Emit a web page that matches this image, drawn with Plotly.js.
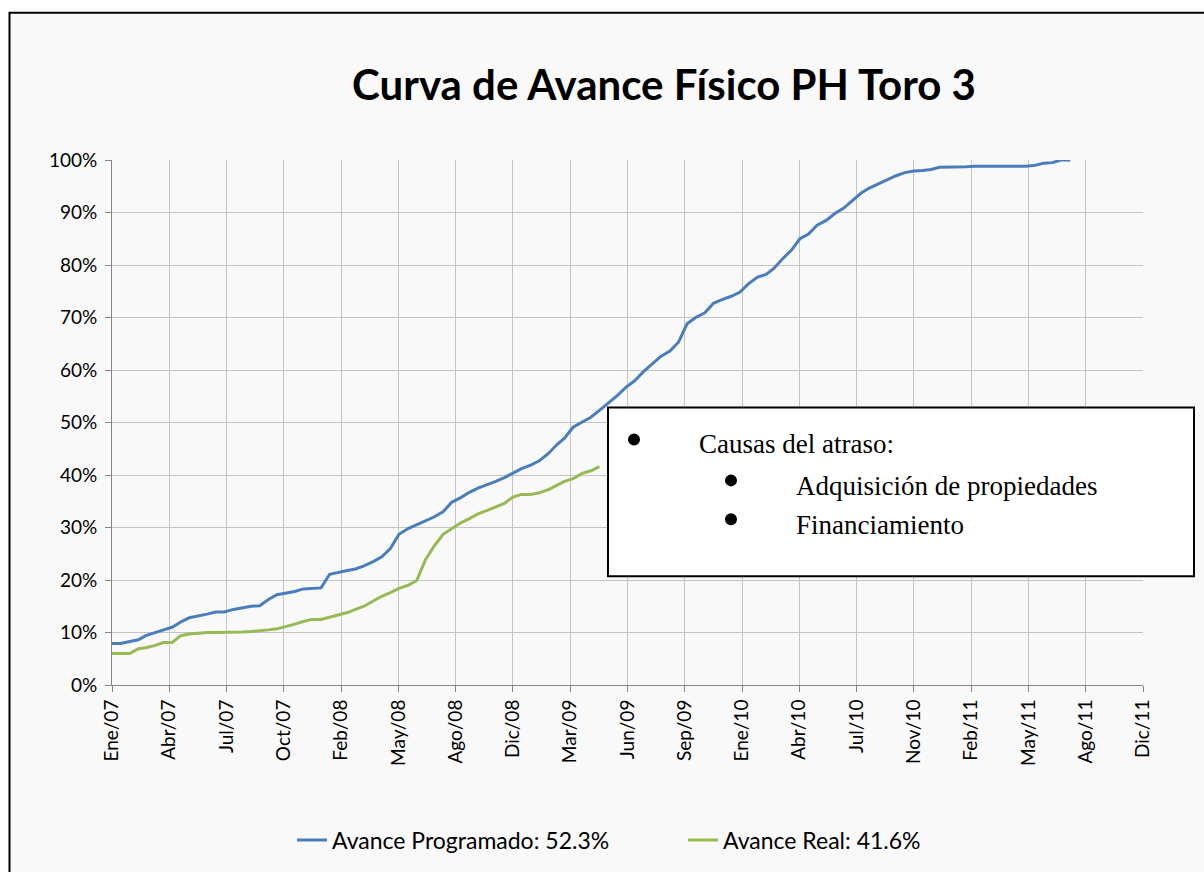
<!DOCTYPE html>
<html>
<head>
<meta charset="utf-8">
<script src="https://cdn.plot.ly/plotly-3.0.1.min.js"></script>
<style>
  html, body { margin: 0; padding: 0; background: #ffffff; }
  #chart { width: 1204px; height: 872px; }
</style>
</head>
<body>
<div id="chart"></div>
<script>
// Semi-monthly reporting periods, starting January 2007
const startYear = 2007;
const startMonth = 1;

// Avance Programado (%), one value per half month
const programado = [
  7.9, 7.9, 8.3, 8.6, 9.4, 10.0, 10.5, 11.0, 12.0, 12.8,
  13.1, 13.5, 13.9, 13.9, 14.4, 14.7, 15.0, 15.1, 16.3, 17.2,
  17.5, 17.8, 18.3, 18.4, 18.5, 21.1, 21.4, 21.8, 22.1, 22.7,
  23.5, 24.4, 26.0, 28.7, 29.8, 30.5, 31.3, 32.0, 33.0, 34.8,
  35.7, 36.7, 37.5, 38.1, 38.8, 39.5, 40.4, 41.2, 41.9, 42.7,
  44.1, 45.8, 47.0, 49.1, 50.1, 51.0, 52.3, 53.6, 55.1, 56.7,
  57.9, 59.6, 61.1, 62.6, 63.6, 65.3, 68.8, 70.0, 70.9, 72.7,
  73.4, 74.0, 74.8, 76.4, 77.7, 78.2, 79.3, 81.1, 82.8, 85.0,
  85.9, 87.6, 88.5, 89.8, 90.8, 92.2, 93.7, 94.7, 95.5, 96.3,
  97.0, 97.6, 97.9, 98.0, 98.2, 98.6, 98.6, 98.6, 98.7, 98.8,
  98.8, 98.8, 98.8, 98.8, 98.8, 98.8, 99.0, 99.4, 99.5, 100.0,
  100.0
];

// Avance Real (%), one value per half month
const real = [
  6.0, 6.0, 6.0, 6.9, 7.1, 7.5, 8.1, 8.1, 9.4, 9.7,
  9.9, 10.0, 10.0, 10.0, 10.0, 10.1, 10.2, 10.3, 10.5, 10.7,
  11.1, 11.6, 12.1, 12.5, 12.5, 12.9, 13.3, 13.8, 14.4, 15.0,
  16.0, 16.9, 17.6, 18.4, 19.0, 19.9, 23.8, 26.4, 28.7, 29.7,
  30.9, 31.7, 32.6, 33.2, 33.9, 34.6, 35.8, 36.3, 36.3, 36.6,
  37.2, 38.1, 38.8, 39.3, 40.3, 40.8, 41.6
];

const seriesNames = ["Avance Programado: 52.3%", "Avance Real: 41.6%"];

// Axis tick labels (Excel date axis, major unit 100 days)
const tickLabels = [
  "Ene/07", "Abr/07", "Jul/07", "Oct/07", "Feb/08", "May/08", "Ago/08",
  "Dic/08", "Mar/09", "Jun/09", "Sep/09", "Ene/10", "Abr/10", "Jul/10",
  "Nov/10", "Feb/11", "May/11", "Ago/11", "Dic/11"
];
const tickStepDays = 100;

const titleText = "Curva de Avance Físico PH Toro 3";
const noteTitle = "Causas del atraso:";
const noteItems = ["Adquisición de propiedades", "Financiamiento"];

// ---- build dates ----
function pad(n) { return (n < 10 ? "0" : "") + n; }
function halfMonthDate(i) {
  const m = startMonth - 1 + Math.floor(i / 2);
  const y = startYear + Math.floor(m / 12);
  const mo = (m % 12) + 1;
  const d = (i % 2 === 0) ? 1 : 16;
  return y + "-" + pad(mo) + "-" + pad(d);
}
const datesProg = programado.map((_, i) => halfMonthDate(i));
const datesReal = real.map((_, i) => halfMonthDate(i));

const t0 = Date.UTC(startYear, startMonth - 1, 1);
const tickVals = tickLabels.map((_, k) =>
  new Date(t0 + k * tickStepDays * 86400000).toISOString().slice(0, 10));

// ---- pixel -> paper helpers for decorations ----
const W = 1204, H = 872;
const M = { l: 112, r: 61, t: 160, b: 186 };
const PW = W - M.l - M.r, PH = H - M.t - M.b;
const px = x => (x - M.l) / PW;
const py = y => (H - M.b - y) / PH;

const FONT = "Lato, 'Open Sans', sans-serif";
const SERIF = "'Liberation Serif', 'DejaVu Serif', serif";

const traces = [
  { x: datesProg, y: programado, name: seriesNames[0], type: "scatter", mode: "lines",
    line: { color: "#4a7ebb", width: 3 } },
  { x: datesReal, y: real, name: seriesNames[1], type: "scatter", mode: "lines",
    line: { color: "#98b954", width: 3 } }
];

function circle(cx, cy, r) {
  return { type: "circle", xref: "paper", yref: "paper", layer: "above",
    x0: px(cx - r), x1: px(cx + r), y0: py(cy + r), y1: py(cy - r),
    fillcolor: "#000", line: { width: 0 } };
}

const shapes = [
  { type: "rect", xref: "paper", yref: "paper", layer: "below",
    x0: px(9.5), x1: px(1220), y0: py(890), y1: py(12.5),
    fillcolor: "#f9f9f9", line: { color: "#000", width: 2 } },
  { type: "rect", xref: "paper", yref: "paper", layer: "above",
    x0: px(608), x1: px(1194), y0: py(577), y1: py(408),
    fillcolor: "#ffffff", line: { color: "#000", width: 2 } },
  circle(634, 440, 6),
  circle(731, 481, 6),
  circle(731, 520, 6)
];

const annotations = [
  { text: noteTitle, xref: "paper", yref: "paper", x: px(697), y: py(445),
    xanchor: "left", yanchor: "middle", showarrow: false,
    font: { family: SERIF, size: 27, color: "#000" } },
  { text: noteItems[0], xref: "paper", yref: "paper", x: px(794), y: py(487),
    xanchor: "left", yanchor: "middle", showarrow: false,
    font: { family: SERIF, size: 27, color: "#000" } },
  { text: noteItems[1], xref: "paper", yref: "paper", x: px(794), y: py(526),
    xanchor: "left", yanchor: "middle", showarrow: false,
    font: { family: SERIF, size: 27, color: "#000" } }
];

const layout = {
  width: W, height: H,
  margin: M,
  paper_bgcolor: "#ffffff",
  plot_bgcolor: "rgba(0,0,0,0)",
  title: { text: "<b>" + titleText + "</b>", xref: "paper", x: px(664), xanchor: "center",
    yref: "container", y: 1 - 85 / H, yanchor: "middle",
    font: { family: FONT, size: 42, color: "#000" } },
  xaxis: {
    type: "date",
    range: [tickVals[0], tickVals[tickVals.length - 1]],
    tickmode: "array", tickvals: tickVals, ticktext: tickLabels,
    tickangle: -90,
    ticks: "outside", ticklen: 6, tickcolor: "#868686", tickwidth: 1,
    showline: true, linecolor: "#868686", linewidth: 1,
    showgrid: true, gridcolor: "#c4c4c4", gridwidth: 1,
    zeroline: false, fixedrange: true,
    tickfont: { family: FONT, size: 19, color: "#000" }
  },
  yaxis: {
    range: [0, 100], dtick: 10, tick0: 0, ticksuffix: "%",
    ticks: "outside", ticklen: 6, tickcolor: "#868686", tickwidth: 1,
    ticklabelstandoff: 4,
    showline: true, linecolor: "#868686", linewidth: 1,
    showgrid: true, gridcolor: "#c4c4c4", gridwidth: 1,
    zeroline: false, fixedrange: true,
    tickfont: { family: FONT, size: 19, color: "#000" }
  },
  showlegend: true,
  legend: {
    orientation: "h", x: px(292), xanchor: "left", y: py(840), yanchor: "middle",
    bgcolor: "rgba(0,0,0,0)", itemwidth: 30,
    entrywidth: 346, entrywidthmode: "pixels",
    font: { family: FONT, size: 23, color: "#000" }
  },
  shapes: shapes,
  annotations: annotations
};

Plotly.newPlot("chart", traces, layout, { displayModeBar: false, staticPlot: true });
</script>
</body>
</html>
